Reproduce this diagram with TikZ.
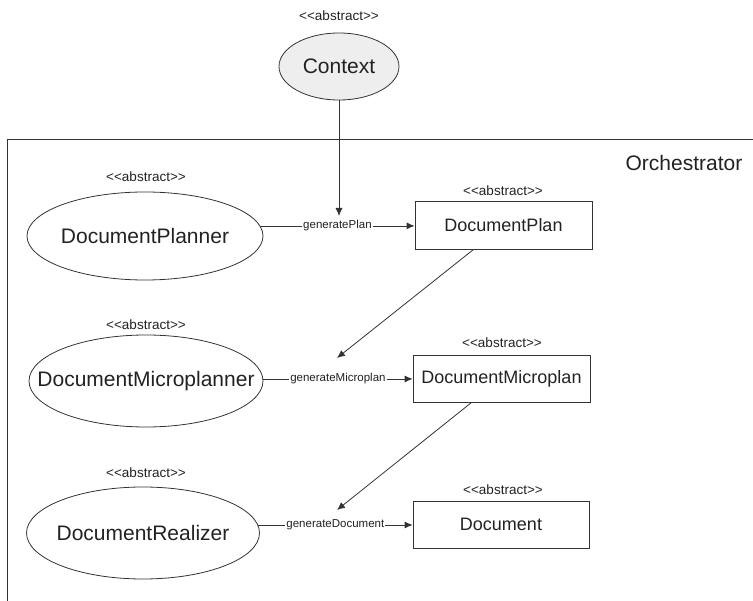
\documentclass[tikz,border=0pt]{standalone}
\usepackage{fontspec}
\setmainfont{Liberation Sans}
\usetikzlibrary{shapes.geometric,arrows.meta}
\definecolor{ln}{HTML}{333333}
\definecolor{tx}{HTML}{222222}
\definecolor{ctxfill}{HTML}{EEEEEE}
\newcommand{\abst}{<{}<abstract>{}>}
\tikzset{
  usecase/.style={ellipse,draw=ln,line width=0.8pt,inner ysep=0pt,inner xsep=-30pt,text=tx,font=\fontsize{21}{24}\selectfont},
  classbox/.style={rectangle,draw=ln,line width=0.8pt,inner sep=0pt,text=tx,font=\fontsize{18}{21}\selectfont},
  stereo/.style={text=tx,inner sep=0pt,font=\fontsize{13.5}{15}\selectfont},
  edgelbl/.style={fill=white,text=tx,inner sep=1pt,font=\fontsize{11.5}{13}\selectfont},
  conn/.style={draw=ln,line width=0.8pt,-{Latex[length=8pt,width=7pt]}},
  framel/.style={draw=ln,line width=0.8pt}
}
\begin{document}
\begin{tikzpicture}[x=1pt,y=-1pt]
\useasboundingbox (0,0) rectangle (753,601);
% frame
\draw[framel] (7,601) -- (7,139) -- (753,139);
\node[text=tx,inner sep=0pt,font=\fontsize{21}{24}\selectfont] (orch) at (684,163) {Orchestrator};
% Context
\node[stereo] (sctx) at (339,16) {\abst};
\node[usecase,fill=ctxfill,minimum width=120pt,minimum height=67pt] (ctx) at (339,66.5) {Context};
% left column
\node[stereo] (s1) at (146,177) {\abst};
\node[usecase,minimum width=236pt,minimum height=88pt] (planner) at (145,236) {DocumentPlanner};
\node[stereo] (s2) at (146,325) {\abst};
\node[usecase,minimum width=234pt,minimum height=92pt] (micro) at (146,381) {DocumentMicroplanner};
\node[stereo] (s3) at (146,473) {\abst};
\node[usecase,minimum width=233pt,minimum height=92pt] (real) at (143,533) {DocumentRealizer};
% right column
\node[stereo] (s4) at (503,191) {\abst};
\node[classbox,minimum width=177pt,minimum height=48pt] (plan) at (503.5,225) {DocumentPlan};
\node[stereo] (s5) at (502,343) {\abst};
\node[classbox,minimum width=177pt,minimum height=47pt] (mplan) at (501.5,378.5) {DocumentMicroplan};
\node[stereo] (s6) at (503,490) {\abst};
\node[classbox,minimum width=176pt,minimum height=47pt] (doc) at (501,524.5) {Document};
% free ends
\coordinate (ctxend) at (339,216);
\coordinate (d1end) at (337,358);
\coordinate (d2end) at (337,510);
% connectors
\draw[conn] (ctx.south) -- (ctxend);
\draw[conn] (planner.5.5) -- (planner.5.5 -| plan.west) node[midway,edgelbl] {generatePlan};
\draw[conn] (micro.1.3) -- (micro.1.3 -| mplan.west) node[midway,edgelbl] {generateMicroplan};
\draw[conn] (real.4.2) -- (real.4.2 -| doc.west) node[midway,edgelbl] {generateDocument};
\draw[conn] ([xshift=59pt]plan.south west) -- (d1end);
\draw[conn] ([xshift=59pt]mplan.south west) -- (d2end);
\end{tikzpicture}
\end{document}
